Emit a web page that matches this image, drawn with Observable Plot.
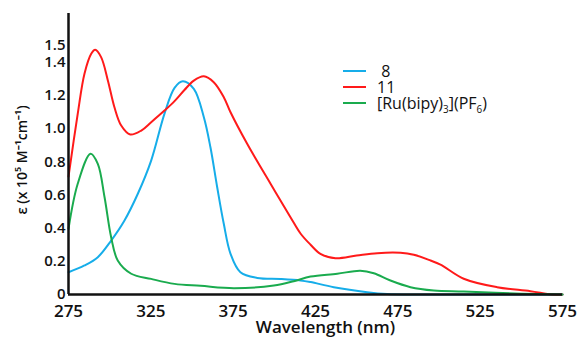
<!DOCTYPE html>
<html><head><meta charset="utf-8">
<script src="https://cdn.jsdelivr.net/npm/d3@7"></script>
<script src="https://cdn.jsdelivr.net/npm/@observablehq/plot@0.6"></script>
<style>
body{margin:0;background:#fff;}
#wrap{position:relative;width:578px;height:337px;overflow:hidden;font-family:"Open Sans",sans-serif;}
#legend{position:absolute;left:343px;top:63px;font-size:16px;color:#111;}
.row{display:flex;align-items:center;height:16px;line-height:16px;white-space:pre;}
.sw{width:23px;height:2px;margin-right:11px;flex:none;}
.lab{display:inline-block;height:16px;line-height:16px;overflow:visible;}
sub{font-size:0.62em;vertical-align:-0.4em;line-height:0;}
</style></head><body>
<div id="wrap"><div id="legend"></div></div>
<script>
// Series names and colours
const seriesNames = [" 8", "11", "[Ru(bipy)3](PF6)"];
const seriesColors = ["#16ade9", "#ff1a1a", "#1aab4e"];

// Compound 8 (blue)
const blueNm = [275, 284.7, 292.8, 300.9, 309, 317.1, 325.2, 333.3, 339.4, 344.4, 351.1, 357.2, 361.2, 365.3, 369.3, 373.4, 379.4, 389.6, 403.7, 415.9, 422, 436.1, 456.4, 468.5, 490, 575];
const blueEps = [0.134, 0.175, 0.225, 0.325, 0.446, 0.607, 0.807, 1.09, 1.245, 1.285, 1.239, 1.068, 0.887, 0.646, 0.426, 0.245, 0.134, 0.100, 0.094, 0.085, 0.075, 0.044, 0.014, 0.003, 0, 0];

// Compound 11 (red)
const redNm = [275, 280.6, 284.7, 288.8, 291.2, 294.8, 298.9, 302.9, 307, 312.5, 319.2, 325.2, 333.3, 339.4, 345.4, 351.1, 357.2, 363.2, 369.3, 373.4, 383.5, 397.7, 409.8, 416, 422, 428, 437.1, 450, 462.5, 476.6, 484.7, 494.8, 500.9, 515, 535.3, 555.5, 568.7, 575];
const redEps = [0.71, 1.088, 1.33, 1.45, 1.474, 1.43, 1.29, 1.128, 1.018, 0.964, 0.988, 1.038, 1.108, 1.165, 1.232, 1.289, 1.315, 1.279, 1.189, 1.098, 0.908, 0.667, 0.466, 0.366, 0.30, 0.245, 0.219, 0.235, 0.249, 0.251, 0.239, 0.205, 0.18, 0.095, 0.044, 0.02, 0, 0];

// [Ru(bipy)3](PF6) (green)
const greenNm = [275, 280.6, 288.4, 292.8, 296.9, 300.9, 304.9, 313.1, 325.2, 339.4, 355.2, 375.4, 399.7, 411.8, 422, 438.2, 452.2, 460.4, 470.5, 482.7, 496.8, 515, 550, 575];
const greenEps = [0.396, 0.667, 0.848, 0.787, 0.586, 0.345, 0.205, 0.125, 0.094, 0.064, 0.052, 0.038, 0.054, 0.08, 0.108, 0.125, 0.143, 0.128, 0.084, 0.044, 0.024, 0.018, 0.005, 0];

// Axis ticks
const xTicks = [275, 325, 375, 425, 475, 525, 575];
const yTicks = [0, 0.2, 0.4, 0.6, 0.8, 1.0, 1.2, 1.4, 1.5];
const yTickLabels = ["0", "0.2", "0.4", "0.6", "0.8", "1.0", "1.2", "1.4", "1.5"];
const xLabel = "Wavelength (nm)";
const yLabel = "ε (x 10⁵ M⁻¹cm⁻¹)";

const table = [];
[[blueNm, blueEps], [redNm, redEps], [greenNm, greenEps]].forEach(([xs, ys], i) => {
  xs.forEach((x, j) => table.push({series: seriesNames[i], nm: x, eps: ys[j]}));
});

const chart = Plot.plot({
  width: 578, height: 337,
  marginLeft: 68, marginRight: 16, marginTop: 13, marginBottom: 43,
  style: {fontFamily: "Open Sans", background: "transparent", color: "#111"},
  x: {domain: [275, 575]},
  y: {domain: [0, 1.693]},
  color: {domain: seriesNames, range: seriesColors},
  marks: [
    Plot.axisX(xTicks, {tickSize: 0, tickPadding: 10, fontSize: 17, fontWeight: 600, label: null}),
    Plot.axisY(yTicks, {tickSize: 0, tickPadding: 3, fontSize: 15, fontWeight: 600, label: null,
      tickFormat: d => yTickLabels[yTicks.indexOf(d)]}),
    Plot.line(table, {x: "nm", y: "eps", z: "series", stroke: "series", strokeWidth: 2, curve: "catmull-rom"}),
    Plot.ruleX([275], {stroke: "#111", strokeWidth: 2.5}),
    Plot.ruleY([0], {stroke: "#111", strokeWidth: 2.5}),
    Plot.text([xLabel], {text: d => d, frameAnchor: "bottom", textAnchor: "middle", dx: 10, dy: 38, fontSize: 17, fontWeight: 600, fill: "#111"}),
    Plot.text([yLabel], {text: d => d, frameAnchor: "left", textAnchor: "middle", rotate: -90, dx: -46, dy: 6, fontSize: 14, fontWeight: 600, fill: "#111"})
  ]
});
document.getElementById("wrap").prepend(chart);

const legend = document.getElementById("legend");
seriesNames.forEach((name, i) => {
  const row = document.createElement("div");
  row.className = "row";
  const sw = document.createElement("span");
  sw.className = "sw";
  sw.style.background = seriesColors[i];
  const lab = document.createElement("span");
  lab.className = "lab";
  lab.innerHTML = name.replace(/([A-Za-z\)])(\d)/g, "$1<sub>$2</sub>");
  row.append(sw, lab);
  legend.append(row);
});
</script>
</body></html>
